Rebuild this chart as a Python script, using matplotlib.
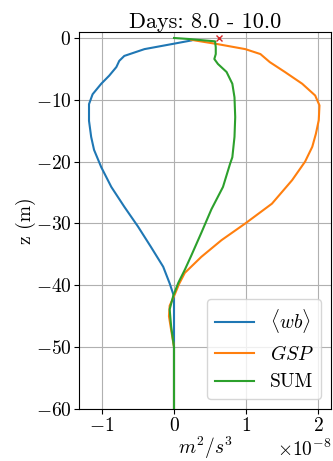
import numpy as np
import matplotlib
matplotlib.use("Agg")
import matplotlib.pyplot as plt

plt.rcParams['font.family'] = 'serif'
plt.rcParams['font.serif'] = ['cmr10', 'DejaVu Serif']
plt.rcParams['mathtext.fontset'] = 'cm'
plt.rcParams['axes.formatter.use_mathtext'] = True

# profiles in units of 1e-8 m^2/s^3
z_wb = [-0.4, -0.9, -1.8, -2.9, -3.7, -4.7, -6.1, -7.4, -9.1, -10.7, -13.4, -16.0, -18.1,
        -20.9, -24.1, -27.3, -30.5, -33.8, -37.0, -39.7, -41.8, -45.0, -50.0, -55.0, -60.0]
wb = [0.24, 0.01, -0.41, -0.69, -0.76, -0.80, -0.90, -1.01, -1.13, -1.18, -1.18, -1.15, -1.11,
      -1.01, -0.87, -0.69, -0.50, -0.32, -0.15, -0.06, 0.0, 0.0, 0.0, 0.0, 0.0]

z_gsp = [-0.3, -1.0, -1.8, -2.6, -3.9, -5.5, -7.4, -9.3, -10.9, -13.3, -15.5, -17.6, -20.0,
         -23.0, -26.8, -30.0, -32.7, -35.4, -38.0, -39.8, -41.5, -43.3, -45.0, -47.2, -50.0,
         -55.0, -60.0]
gsp = [0.24, 0.61, 0.99, 1.20, 1.33, 1.54, 1.78, 1.96, 2.02, 2.01, 1.97, 1.92, 1.82,
       1.64, 1.36, 0.99, 0.66, 0.38, 0.15, 0.07, 0.01, -0.06, -0.07, -0.04, 0.0,
       0.0, 0.0]

z_sum = [0.0, -0.16, -0.54, -1.5, -2.6, -3.4, -4.2, -5.5, -7.4, -9.6, -12.8, -16.0, -19.3,
         -20.3, -24.1, -27.7, -31.5, -35.2, -37.5, -39.6, -41.7, -43.9, -46.6, -50.0,
         -55.0, -60.0]
tot = [0.0, 0.2, 0.57, 0.58, 0.58, 0.56, 0.61, 0.73, 0.81, 0.84, 0.85, 0.84, 0.81,
       0.78, 0.68, 0.52, 0.38, 0.24, 0.15, 0.06, -0.01, -0.06, -0.04, 0.0,
       0.0, 0.0]

marker_x = 0.62
marker_z = 0.0

fig = plt.figure(figsize=(3.33, 4.61), dpi=100)
ax = fig.add_axes([0.237, 0.113, 0.757, 0.818])

ax.plot(np.array(wb) * 1e-8, z_wb, label=r'$\langle wb \rangle$')
ax.plot(np.array(gsp) * 1e-8, z_gsp, label=r'$GSP$')
ax.plot(np.array(tot) * 1e-8, z_sum, label='SUM')
ax.plot(marker_x * 1e-8, marker_z, 'x', color='tab:red', markersize=5)

ax.set_xlim(-1.32e-8, 2.18e-8)
ax.set_ylim(-60, 1)
ax.set_xticks([-1e-8, 0, 1e-8, 2e-8])
ax.set_yticks([0, -10, -20, -30, -40, -50, -60])
ax.tick_params(labelsize=14, pad=2)
ax.xaxis.get_offset_text().set_fontsize(14)
ax.grid(True)
ax.set_title('Days: 8.0 - 10.0', fontsize=16, pad=3)
ax.set_xlabel(r'$m^2/s^3$', fontsize=14, labelpad=0)
ax.set_ylabel('z (m)', fontsize=14, labelpad=0)
ax.legend(loc='lower right', fontsize=14)

fig.savefig('out.png', dpi=100)
